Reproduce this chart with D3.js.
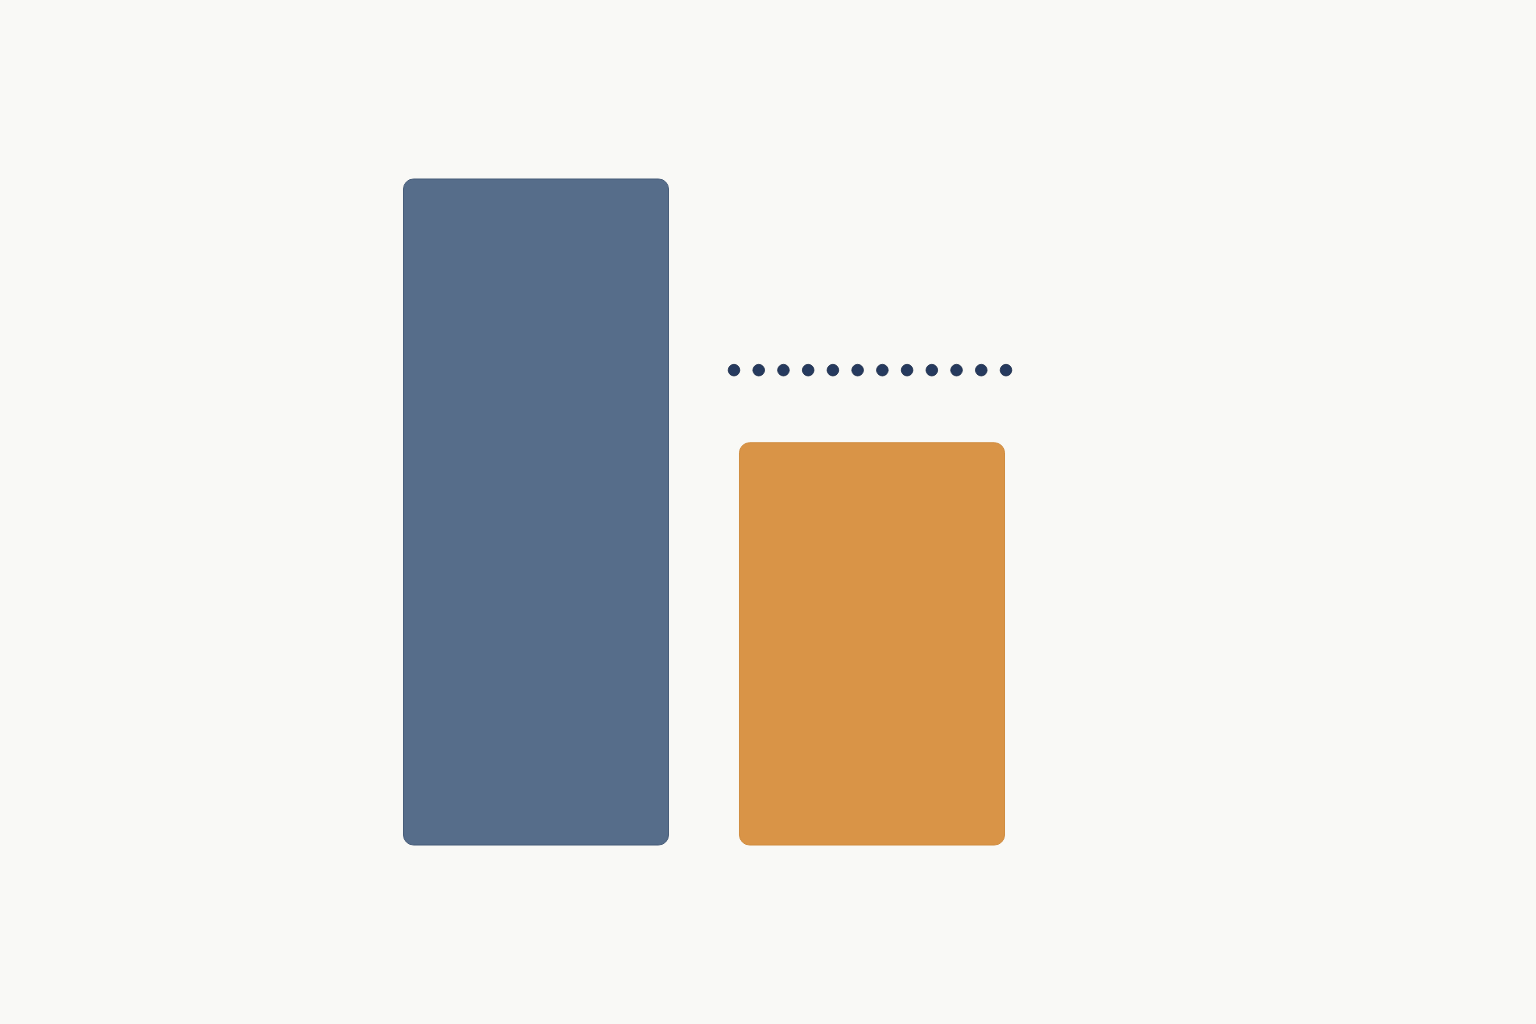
<!DOCTYPE html>
<html>
<head>
<meta charset="utf-8">
<script src="https://cdn.jsdelivr.net/npm/d3@7/dist/d3.min.js"></script>
<style>
  html, body { margin: 0; padding: 0; background: #f9f9f6; }
  svg { display: block; }
</style>
</head>
<body>
<svg id="chart" width="1536" height="1024"></svg>
<script>
const categories = ["A", "B"];
const values = [100, 60.4];
const targetValue = 71.3;
const targetDotCount = 12;
const barColors = ["#566d8a", "#d99447"];
const barStrokes = ["#465c79", "#d08c3f"];

const svg = d3.select("#chart");
svg.append("rect").attr("width", 1536).attr("height", 1024).attr("fill", "#f9f9f6");

const x = d3.scaleBand().domain(categories).range([403, 1005]).paddingInner(0.2083).paddingOuter(0);
const y = d3.scaleLinear().domain([0, 100]).range([845, 179]);

svg.selectAll("rect.bar")
  .data(values)
  .join("rect")
  .attr("class", "bar")
  .attr("x", (d, i) => x(categories[i]) + 0.5)
  .attr("y", d => y(d))
  .attr("width", x.bandwidth() - 1)
  .attr("height", d => y(0) - y(d))
  .attr("rx", 10).attr("ry", 10)
  .attr("fill", (d, i) => barColors[i])
  .attr("stroke", (d, i) => barStrokes[i])
  .attr("stroke-width", 1);

// target dotted line over second category
const x0 = x("B") - 5, x1 = x("B") + x.bandwidth() + 1;
const dotX = d3.scaleLinear().domain([0, targetDotCount - 1]).range([x0, x1]);
svg.selectAll("circle.target")
  .data(d3.range(targetDotCount))
  .join("circle")
  .attr("class", "target")
  .attr("cx", i => dotX(i))
  .attr("cy", y(targetValue))
  .attr("r", 5.8)
  .attr("fill", "#263a5e")
  .attr("stroke", "#1d2d4a")
  .attr("stroke-width", 0.8);
</script>
</body>
</html>
